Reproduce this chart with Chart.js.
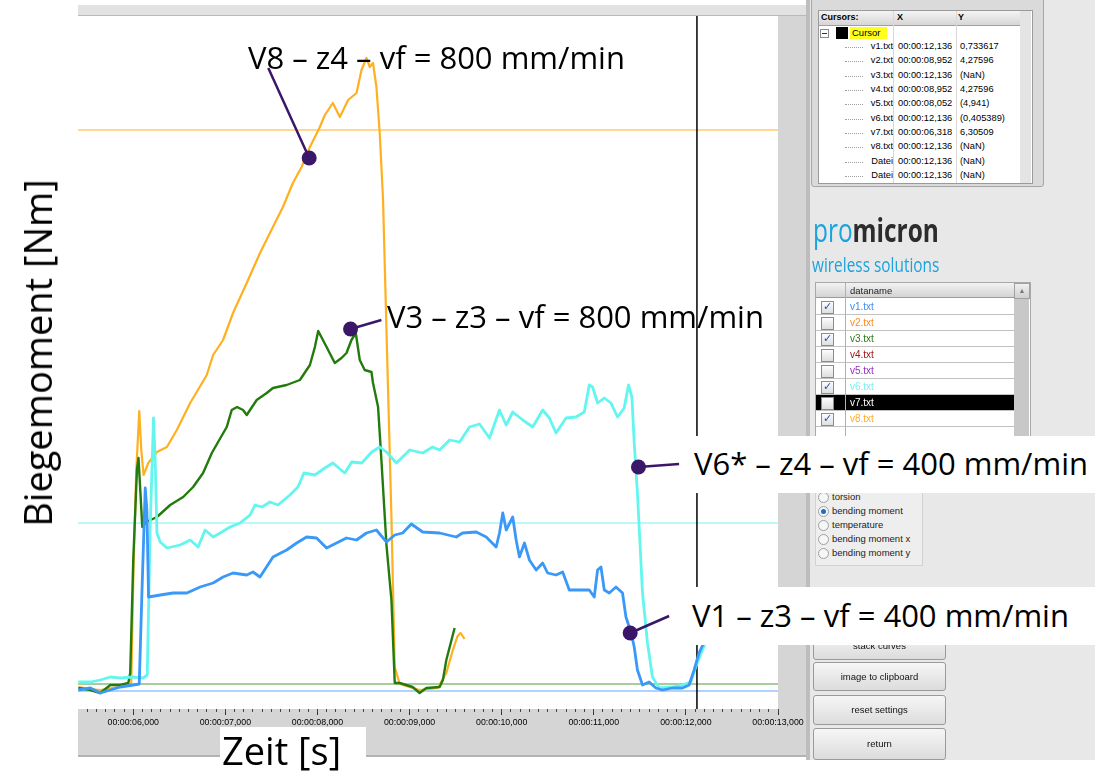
<!DOCTYPE html>
<html>
<head>
<meta charset="utf-8">
<script src="https://cdn.jsdelivr.net/npm/chart.js@4.4.1/dist/chart.umd.min.js"></script>
<style>
  body { margin: 0; width: 1095px; height: 780px; position: relative; overflow: hidden; background: #fff; font-family: "Liberation Sans", Arial, sans-serif; }
  .a { position: absolute; }
  .t { position: absolute; white-space: nowrap; font-size: 9px; color: #000; line-height: 11px; }
  .big { position: absolute; white-space: nowrap; font-family: "Open Sans", sans-serif; font-size: 31px; line-height: 1; color: #000; }
  .btn { position: absolute; left: 813px; width: 131px; border: 1px solid #9a9a9a; border-radius: 3px;
         background: linear-gradient(#f6f6f6, #dcdcdc); font-size: 9.5px; color: #111; text-align: center; }
  #chart { position: absolute; left: 0; top: 0; }
</style>
</head>
<body>

<!-- frame of the measurement window (under the canvas) -->
<div class="a" style="left:78px;top:5px;width:730px;height:10px;background:#e2e2e2;border-bottom:1px solid #b9b9b9"></div>
<div class="a" style="left:778px;top:16px;width:28px;height:741px;background:#d5d5d5"></div>
<div class="a" style="left:78px;top:709px;width:728px;height:46px;background:#d5d5d5;border-bottom:2px solid #b3b3b3"></div>
<div class="a" style="left:806px;top:0;width:4px;height:760px;background:#bdbdbd"></div>
<div class="a" style="left:810px;top:0;width:285px;height:760px;background:#e8e8e8"></div>

<canvas id="chart" width="1095" height="780"></canvas>

<div id="panel"></div>

<!-- axis titles -->
<div class="big" style="font-size:38px;left:37px;top:353px;transform:translate(-50%,-50%) rotate(-90deg)">Biegemoment [Nm]</div>
<div class="a" style="left:220px;top:727px;width:146px;height:53px;background:#fff"></div>
<div class="big" style="font-size:38px;left:222px;top:731px">Zeit [s]</div>

<!-- curve labels -->
<div class="big" style="left:248px;top:42px">V8 – z4 – vf = 800 mm/min</div>
<div class="big" style="left:387px;top:301px">V3 – z3 – vf = 800 mm/min</div>
<div class="a" style="left:686px;top:436px;width:409px;height:57px;background:#fff"></div>
<div class="big" style="left:694px;top:448px">V6* – z4 – vf = 400 mm/min</div>
<div class="a" style="left:686px;top:587px;width:409px;height:58px;background:#fff"></div>
<div class="big" style="left:692px;top:600px">V1 – z3 – vf = 400 mm/min</div>

<script>
// time in s, bending moment in Nm
const v8Time = [5.404,5.534,5.642,5.772,5.913,5.978,6.005,6.033,6.065,6.087,6.112,6.163,6.257,6.365,6.473,6.618,6.798,6.867,6.975,7.083,7.232,7.376,7.484,7.625,7.733,7.828,7.918,8.026,8.080,8.167,8.243,8.333,8.424,8.478,8.532,8.568,8.603,8.640,8.676,8.712,8.749,8.803,8.839,8.893,9.033,9.109,9.304,9.399,9.470,9.521,9.554,9.597];
const v8Moment = [0.03,0.01,0.00,0.02,0.04,0.07,1.30,2.20,2.79,2.40,2.15,2.27,2.38,2.43,2.60,2.87,3.15,3.35,3.50,3.77,4.07,4.37,4.57,4.83,5.07,5.23,5.43,5.63,5.75,5.87,5.73,5.90,5.97,6.20,6.32,6.23,6.27,6.03,5.57,4.90,3.60,1.73,0.23,0.06,0.02,0.00,0.02,0.17,0.40,0.54,0.57,0.51];

const v3Time = [5.404,5.534,5.642,5.751,5.859,5.946,5.967,6.000,6.040,6.057,6.098,6.141,6.257,6.401,6.542,6.650,6.758,6.853,6.921,7.015,7.069,7.127,7.192,7.232,7.340,7.449,7.517,7.665,7.809,7.918,7.972,8.008,8.099,8.188,8.261,8.315,8.369,8.416,8.459,8.513,8.586,8.603,8.658,8.694,8.749,8.803,8.839,8.893,9.033,9.109,9.182,9.326,9.362,9.399,9.489];
const v3Moment = [0.02,0.00,-0.03,0.05,0.05,0.07,0.17,1.30,2.20,2.32,1.63,1.68,1.73,1.85,1.93,2.03,2.17,2.37,2.48,2.63,2.80,2.83,2.80,2.75,2.90,2.97,3.02,3.05,3.10,3.25,3.43,3.59,3.43,3.27,3.32,3.37,3.50,3.57,3.30,3.20,3.18,3.07,2.83,2.30,1.45,0.90,0.07,0.07,0.03,-0.03,0.02,0.03,0.10,0.30,0.62];

const v1Time = [5.404,5.534,5.642,5.751,5.859,6.000,6.065,6.094,6.130,6.148,
  6.166,6.293,6.433,6.582,6.726,6.867,6.975,7.083,7.232,7.300,
  7.376,7.517,7.665,7.774,7.882,7.990,8.099,8.207,8.315,8.424,
  8.532,8.640,8.749,8.839,8.925,9.019,9.142,9.326,9.507,9.575,
  9.724,9.832,9.940,9.976,10.012,10.049,10.120,10.157,10.193,10.247,
  10.301,10.374,10.445,10.499,10.590,10.662,10.734,10.843,10.951,11.005,
  11.041,11.078,11.114,11.168,11.241,11.312,11.349,11.403,11.439,11.474,
  11.529,11.601,11.674,11.745,11.854,11.962,12.035,12.089,12.143,12.208];
const v1Moment = [0.00,0.02,-0.03,0.00,0.03,0.05,0.06,0.97,2.02,1.80,
  0.93,0.95,0.97,0.97,1.03,1.07,1.13,1.17,1.15,1.18,
  1.13,1.33,1.40,1.47,1.53,1.52,1.42,1.47,1.52,1.50,
  1.57,1.60,1.48,1.55,1.57,1.66,1.58,1.57,1.53,1.57,
  1.58,1.53,1.43,1.57,1.77,1.60,1.73,1.50,1.33,1.47,
  1.30,1.20,1.27,1.17,1.15,1.18,1.00,1.00,1.00,0.93,
  1.20,1.23,1.00,0.97,1.03,0.97,0.73,0.58,0.43,0.20,
  0.05,0.08,0.02,0.00,0.02,0.02,0.05,0.20,0.37,0.50];

const v6Time = [5.404,5.534,5.642,5.751,5.859,6.000,6.108,6.152,6.184,6.220,
  6.238,6.257,6.293,6.365,6.509,6.618,6.704,6.780,6.867,6.943,
  7.051,7.159,7.268,7.322,7.398,7.484,7.571,7.701,7.788,7.853,
  7.972,8.080,8.167,8.297,8.372,8.481,8.589,8.676,8.749,8.857,
  9.001,9.142,9.250,9.326,9.434,9.543,9.651,9.759,9.868,9.976,
  10.049,10.120,10.229,10.337,10.445,10.518,10.590,10.699,10.807,10.897,
  10.951,10.987,11.041,11.114,11.186,11.258,11.330,11.377,11.414,11.439,
  11.474,11.529,11.583,11.637,11.710,11.854,11.962,12.053,12.107,12.179,
  12.230];
const v6Moment = [0.08,0.08,0.10,0.13,0.12,0.13,0.12,0.15,1.63,2.72,
  2.30,1.57,1.48,1.42,1.45,1.50,1.43,1.60,1.53,1.57,
  1.63,1.67,1.75,1.85,1.83,1.88,1.85,1.95,2.03,2.17,
  2.15,2.22,2.27,2.17,2.28,2.27,2.38,2.43,2.38,2.27,
  2.40,2.37,2.43,2.40,2.50,2.48,2.63,2.66,2.52,2.80,
  2.65,2.78,2.70,2.63,2.80,2.72,2.57,2.72,2.73,2.78,
  3.05,3.03,2.87,2.92,2.87,2.73,2.82,3.05,2.93,2.47,
  1.97,0.97,0.47,0.13,0.02,0.03,0.05,0.08,0.23,0.40,
  0.50];

// label pointers: dot on the curve, line towards the text
const labelDotTime = [7.910, 8.359, 11.485, 11.395];
const labelDotMoment = [5.32, 3.61, 2.23, 0.57];
const labelEndTime = [7.466, 8.694, 11.926, 11.818];
const labelEndMoment = [6.22, 3.70, 2.26, 0.74];

// cursor lines of the viewer
const cursorTime = 12.12;
const cursorLevels = [5.60, 1.67, 0.06, -0.01];
const cursorColors = ['#ffb326', '#78f4f0', '#4f9c36', '#93c4ff'];

const xMin = 5.40, xMax = 13.0, yMin = -0.19, yMax = 6.74;
const majorSeconds = [6, 7, 8, 9, 10, 11, 12, 13];
const xTickLabels = ['00:00:06,000','00:00:07,000','00:00:08,000','00:00:09,000','00:00:10,000','00:00:11,000','00:00:12,000','00:00:13,000'];

// side panel texts
const cursorNames = ['v1.txt','v2.txt','v3.txt','v4.txt','v5.txt','v6.txt','v7.txt','v8.txt','Datei','Datei'];
const cursorX = ['00:00:12,136','00:00:08,952','00:00:12,136','00:00:08,952','00:00:08,052','00:00:12,136','00:00:06,318','00:00:12,136','00:00:12,136','00:00:12,136'];
const cursorY = ['0,733617','4,27596','(NaN)','4,27596','(4,941)','(0,405389)','6,30509','(NaN)','(NaN)','(NaN)'];
const fileNames = ['v1.txt','v2.txt','v3.txt','v4.txt','v5.txt','v6.txt','v7.txt','v8.txt'];
const fileColors = ['#3d8ef0','#ff8a1c','#2d7a18','#a01818','#9a2ec8','#7af0f0','#ffffff','#ffae22'];
const fileChecked = [true, false, true, false, false, true, false, true];
const channels = ['torsion','bending moment','temperature','bending moment x','bending moment y'];
const buttons = ['stack curves','image to clipboard','reset settings','return'];

// ---- side panel ----
let h = '';
h += '<div class="a" style="left:811px;top:-3px;width:231px;height:188px;background:#dadada;border:1px solid #a6a6a6;border-radius:3px"></div>';
h += '<div class="a" style="left:818px;top:10px;width:213px;height:172px;background:#fff;border:1px solid #9a9a9a"></div>';
h += '<div class="a" style="left:819px;top:11px;width:212px;height:14px;background:linear-gradient(#f4f4f4,#d6d6d6);border-bottom:1px solid #a0a0a0"></div>';
h += '<div class="a" style="left:1020px;top:11px;width:11px;height:172px;background:#e4e4e4"></div>';
h += '<div class="a" style="left:893px;top:11px;width:1px;height:172px;background:#d8d8d8"></div>';
h += '<div class="a" style="left:956px;top:11px;width:1px;height:172px;background:#d8d8d8"></div>';
h += '<div class="t" style="left:821px;top:12px;font-weight:bold">Cursors:</div>';
h += '<div class="t" style="left:897px;top:12px;font-weight:bold">X</div>';
h += '<div class="t" style="left:958px;top:12px;font-weight:bold">Y</div>';
h += '<div class="a" style="left:820px;top:29px;width:7px;height:7px;border:1px solid #8a8a8a;background:#fff"></div>';
h += '<div class="a" style="left:822px;top:33px;width:5px;height:1px;background:#333"></div>';
h += '<div class="a" style="left:836px;top:27px;width:12px;height:12px;background:#000"></div>';
h += '<div class="a" style="left:850px;top:27px;width:37px;height:12px;background:#ffff1e"></div>';
h += '<div class="t" style="left:852px;top:27px;font-size:9.5px">Cursor</div>';
cursorNames.forEach((n, i) => {
  const y = 41 + i * 14.35;
  h += '<div class="a" style="left:845px;top:' + (y + 6) + 'px;width:18px;border-top:1px dotted #a0a0a0"></div>';
  h += '<div class="t" style="left:862px;top:' + y + 'px;width:31px;overflow:hidden;text-align:right;font-size:9.3px">' + n + '</div>';
  h += '<div class="t" style="left:898px;top:' + y + 'px;font-size:9.3px">' + cursorX[i] + '</div>';
  h += '<div class="t" style="left:960px;top:' + y + 'px;font-size:9.3px">' + cursorY[i] + '</div>';
});
h += '<div class="a" style="left:813px;top:210px;font-family:\'Open Sans\';font-size:33px;line-height:40px;transform:scaleX(0.74);transform-origin:0 0;white-space:nowrap">' +
     '<span style="color:#1aa3dd;font-weight:400">pro</span><span style="color:#2c2c2c;font-weight:700">micron</span></div>';
h += '<div class="a" style="left:812px;top:253px;font-family:\'Open Sans\';font-size:20px;line-height:24px;color:#1aa3dd;transform:scaleX(0.77);transform-origin:0 0;white-space:nowrap">wireless solutions</div>';
h += '<div class="a" style="left:815px;top:282px;width:214px;height:154px;background:#fff;border:1px solid #a8a8a8"></div>';
h += '<div class="a" style="left:816px;top:283px;width:198px;height:14px;background:linear-gradient(#f2f2f2,#d4d4d4);border-bottom:1px solid #9a9a9a"></div>';
h += '<div class="a" style="left:1014px;top:283px;width:15px;height:153px;background:#c8c8c8"></div>';
h += '<div class="a" style="left:1014px;top:283px;width:14px;height:14px;background:linear-gradient(#f0f0f0,#cfcfcf);border:1px solid #a0a0a0;font-size:7px;line-height:14px;text-align:center;color:#777">▲</div>';
h += '<div class="t" style="left:850px;top:285px;font-size:9.5px;color:#222">dataname</div>';
fileNames.forEach((n, i) => {
  const y = 299 + i * 16;
  const bg = i === 6 ? '#000' : '#fff';
  h += '<div class="a" style="left:816px;top:' + y + 'px;width:198px;height:15px;background:' + bg + ';border-bottom:1px solid #c2c2c2"></div>';
  h += '<div class="a" style="left:821px;top:' + (y + 2) + 'px;width:11px;height:11px;border:1px solid #8c8c8c;background:linear-gradient(#fdfdfd,#dedede)"></div>';
  if (fileChecked[i]) h += '<div class="t" style="left:823px;top:' + (y + 2) + 'px;font-size:11px;color:#2b4fb3">✓</div>';
  h += '<div class="t" style="left:850px;top:' + (y + 2) + 'px;font-size:10px;color:' + fileColors[i] + '">' + n + '</div>';
});
h += '<div class="a" style="left:845px;top:283px;width:1px;height:153px;background:#b0b0b0"></div>';
h += '<div class="a" style="left:815px;top:489px;width:106px;height:75px;background:#eeeeee;border:1px solid #d2d2d2"></div>';
channels.forEach((c, i) => {
  const y = 492 + i * 14;
  h += '<div class="a" style="left:818px;top:' + y + 'px;width:9px;height:9px;border:1px solid #a0a0a0;border-radius:50%;background:#f6f6f6"></div>';
  if (i === 1) h += '<div class="a" style="left:821px;top:' + (y + 3) + 'px;width:5px;height:5px;border-radius:50%;background:#1d6fc2"></div>';
  h += '<div class="t" style="left:832px;top:' + (y - 1) + 'px;font-size:9.5px;color:#222">' + c + '</div>';
});
const btnTop = [632, 662, 695, 728], btnH = [26, 27, 28, 30];
buttons.forEach((b, i) => {
  h += '<div class="btn" style="top:' + btnTop[i] + 'px;height:' + btnH[i] + 'px;line-height:' + btnH[i] + 'px">' + b + '</div>';
});
document.getElementById('panel').innerHTML = h;

// ---- chart ----
const pts = (xs, ys) => xs.map((x, i) => ({x: x, y: ys[i]}));
const curve = (label, xs, ys, color, w) => ({
  label: label, data: pts(xs, ys), borderColor: color, borderWidth: w,
  showLine: true, pointRadius: 0, fill: false, borderJoinStyle: 'round'
});

const datasets = [];
labelDotTime.forEach((t, i) => {
  datasets.push({
    label: 'pointer' + i,
    data: [{x: t, y: labelDotMoment[i]}, {x: labelEndTime[i], y: labelEndMoment[i]}],
    showLine: true, borderColor: '#3a1768', borderWidth: 2.5,
    pointRadius: [7.5, 0], pointBackgroundColor: '#3a1768', pointBorderWidth: 0
  });
});
datasets.push(curve('v1.txt', v1Time, v1Moment, '#3a98f8', 2.8));
datasets.push(curve('v6.txt', v6Time, v6Moment, '#62f6ef', 2.8));
datasets.push(curve('v3.txt', v3Time, v3Moment, '#227b0c', 2.4));
datasets.push(curve('v8.txt', v8Time, v8Moment, '#ffb020', 2.2));
datasets.push({
  label: 'cursor', data: [{x: cursorTime, y: yMin}, {x: cursorTime, y: yMax}],
  showLine: true, borderColor: '#000', borderWidth: 1.5, pointRadius: 0
});
cursorLevels.forEach((lv, i) => {
  datasets.push({
    label: 'level' + i, data: [{x: xMin, y: lv}, {x: xMax, y: lv}],
    showLine: true, borderColor: cursorColors[i], borderWidth: i === 3 ? 1.6 : 1, pointRadius: 0
  });
});

new Chart(document.getElementById('chart'), {
  type: 'scatter',
  data: { datasets: datasets },
  options: {
    responsive: false,
    animation: false,
    devicePixelRatio: 1,
    events: [],
    layout: { padding: { left: 78, right: 317, top: 16, bottom: 24 } },
    plugins: { legend: { display: false }, tooltip: { enabled: false } },
    scales: {
      x: {
        type: 'linear', position: 'bottom', min: xMin, max: xMax, weight: 1,
        afterBuildTicks: s => { s.ticks = majorSeconds.map(v => ({value: v})); },
        afterFit: s => { s.height = 47; },
        ticks: {
          autoSkip: false, maxRotation: 0, padding: 2, color: '#000',
          font: { family: 'Liberation Sans', size: 8.8 },
          callback: (v, i) => xTickLabels[i]
        },
        grid: { drawOnChartArea: false, tickLength: 6, color: '#333' },
        border: { display: false }
      },
      xMinor: {
        type: 'linear', position: 'bottom', min: xMin, max: xMax, weight: 0,
        afterBuildTicks: s => {
          const t = [];
          for (let k = 55; k <= 130; k++) t.push({value: k / 10});
          s.ticks = t;
        },
        afterFit: s => { s.height = 0; },
        ticks: { display: false },
        grid: { drawOnChartArea: false, tickLength: 3, color: '#444' },
        border: { display: false }
      },
      y: { type: 'linear', min: yMin, max: yMax, display: false }
    }
  }
});
</script>
</body>
</html>
